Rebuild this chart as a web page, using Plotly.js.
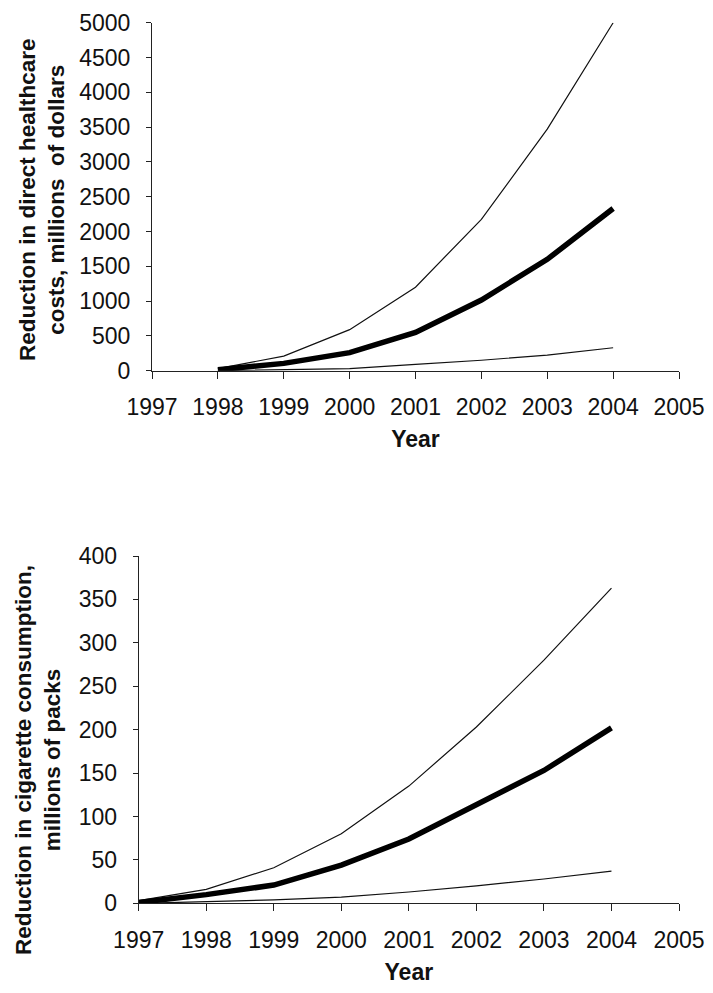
<!DOCTYPE html>
<html>
<head>
<meta charset="utf-8">
<script src="https://cdn.plot.ly/plotly-3.0.1.min.js"></script>
<style>
  html, body { margin: 0; padding: 0; background: #fff; }
  #chart { width: 713px; height: 993px; }
</style>
</head>
<body>
<div id="chart"></div>
<script>
// ---- Data ----
const yearsCost = [1998, 1999, 2000, 2001, 2002, 2003, 2004];
const costHigh  = [30, 210, 590, 1200, 2175, 3470, 5000];
const costMid   = [15, 105, 260, 550, 1015, 1600, 2330];
const costLow   = [0, 10, 30, 90, 150, 225, 330];

const yearsPacks = [1997, 1998, 1999, 2000, 2001, 2002, 2003, 2004];
const packsHigh  = [3, 16, 41, 80, 135, 203, 280, 363];
const packsMid   = [1, 10, 21, 44, 74, 114, 153, 202];
const packsLow   = [0, 2, 4, 7, 13, 20, 28, 37];

const xTickVals = [1997, 1998, 1999, 2000, 2001, 2002, 2003, 2004, 2005];
const costTicks  = [0, 500, 1000, 1500, 2000, 2500, 3000, 3500, 4000, 4500, 5000];
const packsTicks = [0, 50, 100, 150, 200, 250, 300, 350, 400];

const xTitle = "Year";
const costTitle  = "Reduction in direct healthcare<br>costs, millions  of dollars";
const packsTitle = "Reduction in cigarette consumption,<br>millions of packs";

// ---- Styling ----
const W = 713, H = 993;
const FONT = "Liberation Sans, Arial, sans-serif";
const FS = 23;
const AX = "#222";
const thin = {color: "#111", width: 1.2};
const thick = {color: "#000", width: 5.5};

function tr(x, y, line, xa, ya) {
  return {x: x, y: y, type: "scatter", mode: "lines", line: line,
          xaxis: xa, yaxis: ya, hoverinfo: "skip", showlegend: false};
}

const data = [
  tr(yearsCost, costHigh, thin, "x", "y"),
  tr(yearsCost, costLow, thin, "x", "y"),
  tr(yearsCost, costMid, thick, "x", "y"),
  tr(yearsPacks, packsHigh, thin, "x2", "y2"),
  tr(yearsPacks, packsLow, thin, "x2", "y2"),
  tr(yearsPacks, packsMid, thick, "x2", "y2")
];

function xAxis(domain, anchor) {
  return {
    domain: domain, anchor: anchor, range: [1997, 2005],
    tickmode: "array", tickvals: xTickVals, ticktext: xTickVals.map(String),
    showline: true, linecolor: AX, linewidth: 1,
    ticks: "outside", ticklen: 7, tickwidth: 1, tickcolor: AX,
    showgrid: false, zeroline: false, automargin: false,
    ticklabelstandoff: 9,
    tickfont: {family: FONT, size: FS, color: "#111"},
    title: {text: "<b>" + xTitle + "</b>", standoff: 11,
            font: {family: FONT, size: FS, color: "#111"}}
  };
}
function yAxis(domain, anchor, ticks) {
  return {
    domain: domain, anchor: anchor, range: [0, ticks[ticks.length - 1]],
    tickmode: "array", tickvals: ticks, ticktext: ticks.map(String),
    showline: true, linecolor: AX, linewidth: 1,
    ticks: "outside", ticklen: 5, tickwidth: 1, tickcolor: AX,
    showgrid: false, zeroline: false, automargin: false,
    ticklabelstandoff: 11,
    tickfont: {family: FONT, size: FS, color: "#111"}
  };
}

const layout = {
  width: W, height: H,
  margin: {l: 0, r: 0, t: 0, b: 0, pad: 0},
  paper_bgcolor: "#fff", plot_bgcolor: "#fff",
  font: {family: FONT, size: FS, color: "#111"},
  showlegend: false,
  xaxis:  xAxis([152 / W, 679 / W], "y"),
  yaxis:  yAxis([1 - 370.7 / H, 1 - 22.7 / H], "x", costTicks),
  xaxis2: xAxis([138.7 / W, 679 / W], "y2"),
  yaxis2: yAxis([1 - 903.3 / H, 1 - 556 / H], "x2", packsTicks),
  annotations: [
    {text: "<b>" + costTitle + "</b>", xref: "paper", yref: "paper",
     x: 42 / W, y: 1 - 200 / H, xanchor: "center", yanchor: "middle",
     textangle: -90, showarrow: false,
     font: {family: FONT, size: 22.5, color: "#111"}},
    {text: "<b>" + packsTitle + "</b>", xref: "paper", yref: "paper",
     x: 38 / W, y: 1 - 760 / H, xanchor: "center", yanchor: "middle",
     textangle: -90, showarrow: false,
     font: {family: FONT, size: 22.5, color: "#111"}}
  ]
};

Plotly.newPlot("chart", data, layout, {staticPlot: true, displayModeBar: false});
</script>
</body>
</html>
